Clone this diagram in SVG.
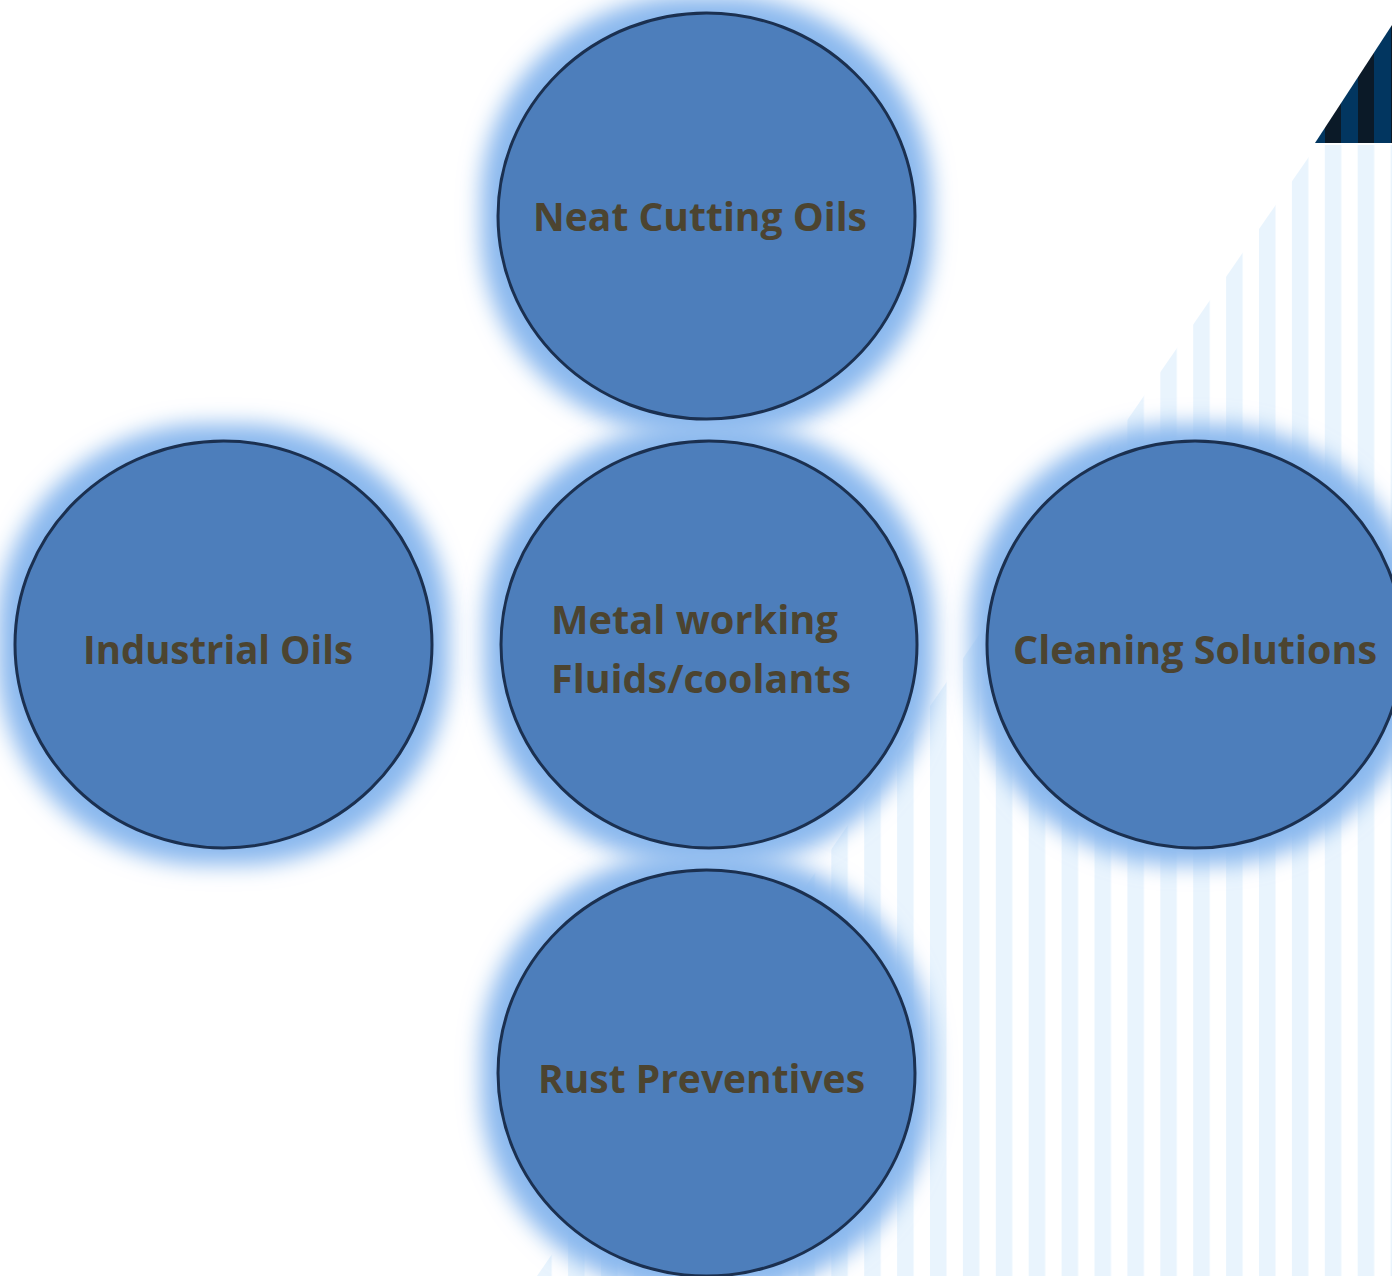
<svg xmlns="http://www.w3.org/2000/svg" width="1392" height="1276" viewBox="0 0 1392 1276">
<style>
.node-shape{fill:#4d7ebb;stroke:#1b3050;stroke-width:3}
.lbl{font-family:"Open Sans","Liberation Sans",sans-serif;font-weight:bold;font-size:39px;fill:#4c4430}
</style>
<defs>
<pattern id="light" x="930" y="0" width="32.9" height="1276" patternUnits="userSpaceOnUse">
<rect x="0" y="0" width="16.5" height="1276" fill="#e9f4fd"/>
</pattern>
<pattern id="dark" x="1325" y="0" width="33" height="200" patternUnits="userSpaceOnUse">
<rect x="0" y="0" width="33" height="200" fill="#023660"/>
<rect x="0" y="0" width="16" height="200" fill="#0b1a28"/>
</pattern>
<filter id="glow" x="-30%" y="-30%" width="160%" height="160%">
<feMorphology in="SourceAlpha" operator="dilate" radius="17" result="d"/>
<feGaussianBlur in="d" stdDeviation="11" result="b"/>
<feFlood flood-color="#8ab8ee"/>
<feComposite in2="b" operator="in"/>
</filter>
</defs>
<rect width="1392" height="1276" fill="#ffffff"/>
<g id="background">
<polygon points="1317,145 1392,145 1392,1276 537,1276" fill="url(#light)"/>
<polygon points="1315,143 1392,143 1392,25" fill="url(#dark)"/>
</g>
<g id="glows">
<ellipse cx="706.5" cy="216" rx="208.5" ry="203" fill="#4d7ebb" filter="url(#glow)"/>
<ellipse cx="223.5" cy="644.5" rx="208.5" ry="203.5" fill="#4d7ebb" filter="url(#glow)"/>
<ellipse cx="709" cy="644.5" rx="208" ry="203.5" fill="#4d7ebb" filter="url(#glow)"/>
<ellipse cx="1195" cy="644.5" rx="208" ry="203.5" fill="#4d7ebb" filter="url(#glow)"/>
<ellipse cx="706.5" cy="1073" rx="208.5" ry="203" fill="#4d7ebb" filter="url(#glow)"/>
</g>
<g id="connectors"></g>
<g id="node-top">
<ellipse class="node-shape" cx="706.5" cy="216" rx="208.5" ry="203"/>
<text class="lbl" x="533" y="231" textLength="334" lengthAdjust="spacingAndGlyphs">Neat Cutting Oils</text>
</g>
<g id="node-left">
<ellipse class="node-shape" cx="223.5" cy="644.5" rx="208.5" ry="203.5"/>
<text class="lbl" x="83" y="664" textLength="270" lengthAdjust="spacingAndGlyphs">Industrial Oils</text>
</g>
<g id="node-center">
<ellipse class="node-shape" cx="709" cy="644.5" rx="208" ry="203.5"/>
<text class="lbl" x="551" y="634" textLength="287" lengthAdjust="spacingAndGlyphs">Metal working</text>
<text class="lbl" x="551" y="693" textLength="300" lengthAdjust="spacingAndGlyphs">Fluids/coolants</text>
</g>
<g id="node-right">
<ellipse class="node-shape" cx="1195" cy="644.5" rx="208" ry="203.5"/>
<text class="lbl" x="1013" y="664" textLength="364" lengthAdjust="spacingAndGlyphs">Cleaning Solutions</text>
</g>
<g id="node-bottom">
<ellipse class="node-shape" cx="706.5" cy="1073" rx="208.5" ry="203"/>
<text class="lbl" x="538" y="1093" textLength="327" lengthAdjust="spacingAndGlyphs">Rust Preventives</text>
</g>
</svg>
